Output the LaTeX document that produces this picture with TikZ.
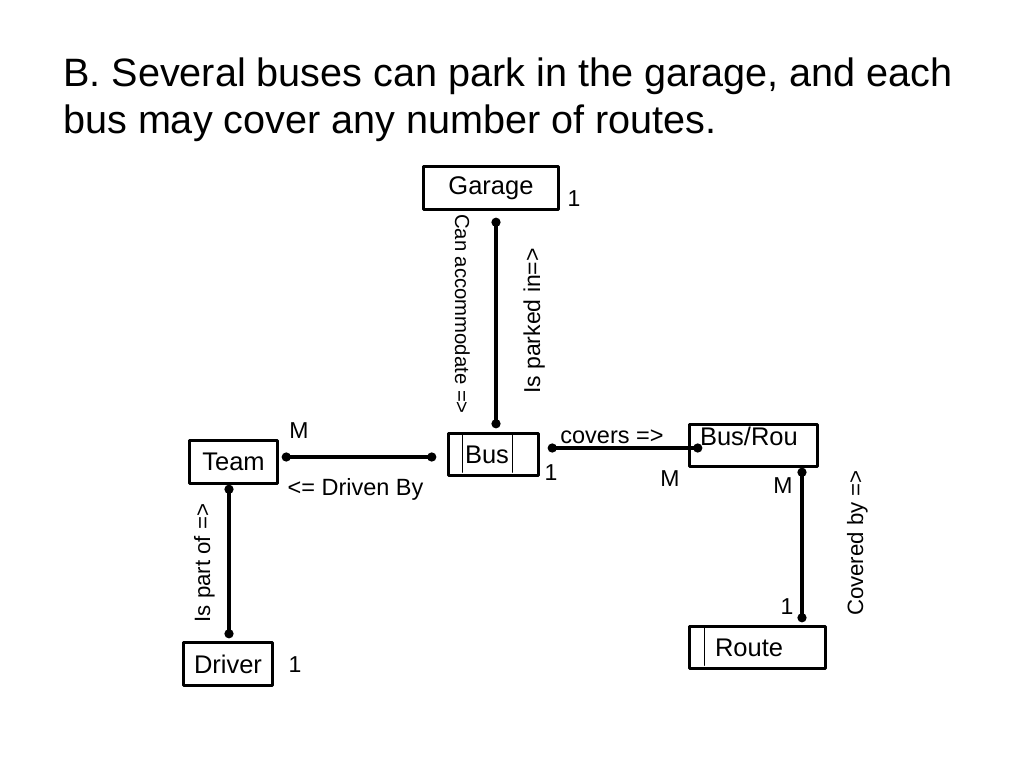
\documentclass[tikz,border=0pt]{standalone}
\usepackage{fontspec}
\setmainfont{Liberation Sans}
\usetikzlibrary{arrows.meta,calc}
\begin{document}
\begin{tikzpicture}[x=1pt,y=-1pt,line cap=round,line join=round,font=\fontsize{23}{27}\selectfont,
	ent/.style={draw,line width=3.5pt,inner sep=0pt,minimum height=43pt,font=\fontsize{25.5}{30}\selectfont},
	lent/.style={ent,align=left,minimum height=42pt},
	link/.style={line width=3.5pt,{Circle[length=9pt]}-{Circle[length=9pt]},shorten <=-4.5pt,shorten >=-4.5pt},
	card/.style={anchor=base,inner sep=0pt},
	verb/.style={anchor=base,inner sep=0pt}]
	\useasboundingbox (0,0) rectangle (1024,768);
	% title
	\node[anchor=base west,inner sep=0pt,font=\fontsize{39.6}{47}\selectfont] (title1) at (63,86) {B. Several buses can park in the garage, and each};
	\node[anchor=base west,inner sep=0pt,font=\fontsize{39.6}{47}\selectfont] (title2) at (63,133) {bus may cover any number of routes.};
	% entities
	\node[ent,minimum width=135pt] (garage) at (491,188) {Garage};
	\node[lent,text width=57pt,inner xsep=16.5pt] (bus) at (493.5,454.5) {Bus};
	\node[lent,text width=107pt,inner xsep=10.5pt,text depth=18pt] (busrou) at (753.5,445.5) {Bus/Rou};
	\node[ent,minimum width=88pt] (team) at (233.5,462) {Team};
	\node[ent,minimum width=89pt] (driver) at (228,664) {Driver};
	\node[lent,text width=85pt,inner xsep=25.5pt] (route) at (757.5,647.5) {Route};
	\draw[line width=1pt] ($(bus.north west)+(16,1)$) -- ($(bus.south west)+(16,-5)$);
	\draw[line width=1pt] ($(bus.north east)+(-28,1)$) -- ($(bus.south east)+(-28,-5)$);
	\draw[line width=1pt] ($(route.north west)+(17,2)$) -- ($(route.south west)+(17,-5)$);
	% relationships
	\draw[link] ($(garage.south)+(5,11)$) -- ($(bus.north)+(2.5,-8)$);
	\draw[link] ($(team.east)+(7,-5)$) -- ($(bus.west)+(-15,2.5)$);
	\draw[link] ($(bus.east)+(12,-6.5)$) -- ($(busrou.west)+(10,2.5)$);
	\draw[link] ($(busrou.south)+(48.5,4)$) -- ($(route.north)+(44.5,-7)$);
	\draw[link] ($(team.south)+(-4.5,4)$) -- ($(driver.north)+(1,-7)$);
	% cardinalities
	\foreach \x/\y/\c in {574/206/1,551/480/1,299/438/M,295/672/1,670/486/M,783/493/M,787/614/1}
		\node[card] at (\x,\y) {\c};
	% verbs
	\node[verb,rotate=-90,font=\fontsize{20.3}{24}\selectfont] (accom) at (455,314) {Can accommodate =>};
	\node[verb,rotate=90] (parked) at (540,321) {Is parked in=>};
	\node[verb,font=\fontsize{23.5}{28}\selectfont] (drivenby) at (355.5,495) {<= Driven By};
	\node[verb,font=\fontsize{23.5}{28}\selectfont] (covers) at (612,443) {covers =>};
	\node[verb,rotate=90,font=\fontsize{22.2}{26}\selectfont] (partof) at (210,563) {Is part of =>};
	\node[verb,rotate=90,font=\fontsize{22.2}{26}\selectfont] (coveredby) at (863,543) {Covered by =>};
\end{tikzpicture}
\end{document}
